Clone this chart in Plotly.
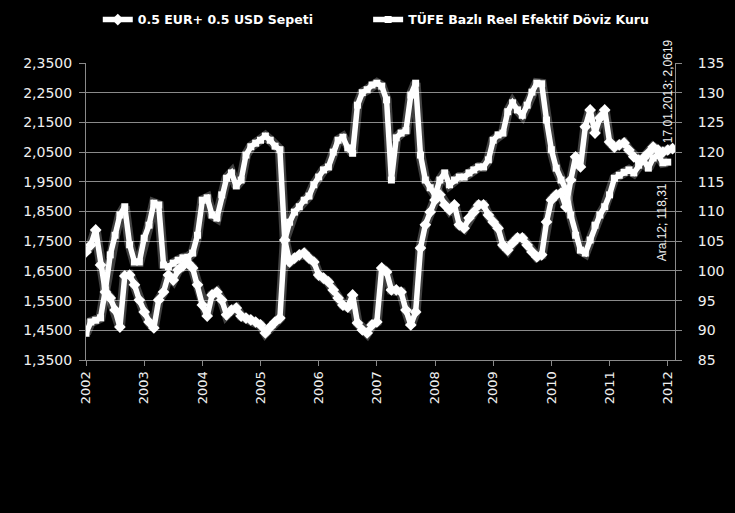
import plotly.graph_objects as go

# Month index (first label 2002 ... last point 17.01.2013)
months = list(range(122))
year_ticks = [0, 12, 24, 36, 48, 60, 72, 84, 96, 108, 120]
year_labels = ["2002", "2003", "2004", "2005", "2006", "2007", "2008", "2009", "2010", "2011", "2012"]

left_ticks = [1.35, 1.45, 1.55, 1.65, 1.75, 1.85, 1.95, 2.05, 2.15, 2.25, 2.35]
left_labels = ["1,3500", "1,4500", "1,5500", "1,6500", "1,7500", "1,8500", "1,9500", "2,0500", "2,1500", "2,2500", "2,3500"]
right_ticks = [85, 90, 95, 100, 105, 110, 115, 120, 125, 130, 135]

basket = [
    1.714, 1.737, 1.788, 1.670, 1.579, 1.559, 1.518, 1.461, 1.633, 1.636,
    1.603, 1.552, 1.512, 1.478, 1.458, 1.552, 1.579, 1.636, 1.619, 1.653,
    1.667, 1.677, 1.660, 1.603, 1.535, 1.498, 1.569, 1.579, 1.552, 1.502,
    1.518, 1.525, 1.498, 1.491, 1.485, 1.478, 1.468, 1.441, 1.461, 1.478,
    1.491, 1.754, 1.680, 1.693, 1.704, 1.710, 1.693, 1.680, 1.636, 1.626,
    1.613, 1.586, 1.559, 1.535, 1.528, 1.569, 1.475, 1.451, 1.441, 1.468,
    1.478, 1.660, 1.646, 1.586, 1.586, 1.579, 1.518, 1.468, 1.512, 1.727,
    1.805, 1.848, 1.889, 1.906, 1.872, 1.855, 1.872, 1.805, 1.794, 1.828,
    1.848, 1.872, 1.872, 1.838, 1.815, 1.794, 1.737, 1.720, 1.744, 1.761,
    1.761, 1.737, 1.714, 1.697, 1.704, 1.815, 1.889, 1.906, 1.912, 1.865,
    1.956, 2.034, 2.000, 2.135, 2.192, 2.114, 2.165, 2.192, 2.084, 2.067,
    2.074, 2.081, 2.057, 2.034, 2.023, 2.030, 2.047, 2.067, 2.057, 2.050,
    2.057, 2.0619,
]

tufe = [
    89.5, 91.4, 91.7, 92.1, 96.8, 102.7, 106.0, 109.4, 110.8, 104.4,
    101.5, 101.5, 105.5, 107.7, 111.4, 111.1, 101.0, 100.7, 101.3, 101.8,
    102.2, 102.3, 103.0, 106.0, 111.9, 112.3, 109.4, 108.9, 112.8, 115.6,
    116.5, 114.3, 115.3, 119.5, 120.9, 121.5, 122.0, 122.7, 122.0, 121.0,
    120.4, 105.2, 108.2, 109.9, 110.8, 111.9, 112.6, 114.5, 115.8, 117.0,
    117.5, 120.0, 122.0, 122.5, 120.7, 119.8, 127.9, 130.0, 130.5, 131.3,
    131.6, 131.1, 128.8, 115.3, 122.4, 123.2, 123.6, 129.6, 131.6, 119.5,
    115.3, 114.0, 112.8, 115.3, 116.5, 114.5, 115.3, 115.8, 115.8, 116.5,
    117.0, 117.5, 117.5, 118.7, 122.0, 122.9, 123.2, 126.8, 128.3, 127.1,
    126.2, 127.9, 130.1, 131.6, 131.5, 125.4, 120.4, 117.3, 115.3, 113.6,
    109.4, 106.0, 103.5, 103.0, 105.2, 107.7, 109.4, 110.8, 112.8, 115.6,
    116.1, 116.6, 117.0, 116.5, 117.8, 118.7, 117.3, 119.0, 119.5, 118.2,
    118.31, None,
]

series_names = ["0.5 EUR+ 0.5 USD Sepeti", "TÜFE Bazlı Reel Efektif Döviz Kuru"]

FONT = "DejaVu Sans"
GRID = "#8a8a8a"
TXT = "#f0f0f0"

fig = go.Figure()

# soft glow beneath both lines
fig.add_trace(go.Scatter(x=months, y=basket, mode="lines", showlegend=False, hoverinfo="skip",
                         line=dict(color="rgba(255,255,255,0.25)", width=10)))
fig.add_trace(go.Scatter(x=months, y=tufe, mode="lines", yaxis="y2", showlegend=False, hoverinfo="skip",
                         line=dict(color="rgba(255,255,255,0.25)", width=10)))

fig.add_trace(go.Scatter(x=months, y=basket, mode="lines+markers", name=series_names[0], legend="legend",
                         line=dict(color="white", width=5.5),
                         marker=dict(symbol="diamond", size=9, color="white")))
fig.add_trace(go.Scatter(x=months, y=tufe, mode="lines+markers", name=series_names[1], yaxis="y2",
                         legend="legend2",
                         line=dict(color="white", width=5.5),
                         marker=dict(symbol="square", size=7, color="white")))

fig.add_annotation(xref="paper", yref="paper", x=0.988, y=0.905, xanchor="center", yanchor="middle",
                   text="17.01.2013; 2,0619", textangle=-90, showarrow=False,
                   font=dict(family="Liberation Sans", size=12, color=TXT))
fig.add_annotation(xref="paper", yref="paper", x=0.977, y=0.465, xanchor="center", yanchor="middle",
                   text="Ara.12; 118,31", textangle=-90, showarrow=False,
                   font=dict(family="Liberation Sans", size=12, color=TXT))

legend_font = dict(family=FONT, size=12.5, color="white", weight="bold")

fig.update_layout(
    width=735, height=513,
    paper_bgcolor="black", plot_bgcolor="black",
    margin=dict(l=86, r=60, t=63, b=153, autoexpand=False),
    showlegend=True,
    legend=dict(orientation="h", x=0.02, xanchor="left", y=1.145, yanchor="middle",
                font=legend_font, bgcolor="rgba(0,0,0,0)"),
    legend2=dict(orientation="h", x=0.479, xanchor="left", y=1.145, yanchor="middle",
                 font=legend_font, bgcolor="rgba(0,0,0,0)"),
    xaxis=dict(range=[0, 121.5], tickmode="array", tickvals=year_ticks, ticktext=year_labels,
               tickangle=-90, ticks="outside", ticklen=5, tickcolor=GRID,
               showline=True, linecolor=GRID, linewidth=1, showgrid=False, zeroline=False,
               tickfont=dict(family=FONT, size=13, color=TXT)),
    yaxis=dict(range=[1.35, 2.35], tickmode="array", tickvals=left_ticks, ticktext=left_labels,
               ticks="outside", ticklen=6, tickcolor=GRID, ticklabelstandoff=4,
               showline=True, linecolor=GRID, linewidth=1,
               showgrid=True, gridcolor=GRID, gridwidth=1, zeroline=False,
               tickfont=dict(family=FONT, size=14, color=TXT)),
    yaxis2=dict(range=[85, 135], tickmode="array", tickvals=right_ticks, overlaying="y", side="right",
                ticks="outside", ticklen=6, tickcolor=GRID, ticklabelstandoff=13,
                showline=True, linecolor=GRID, linewidth=1, showgrid=False, zeroline=False,
                tickfont=dict(family=FONT, size=14, color=TXT)),
)

fig.write_html("out.html")
